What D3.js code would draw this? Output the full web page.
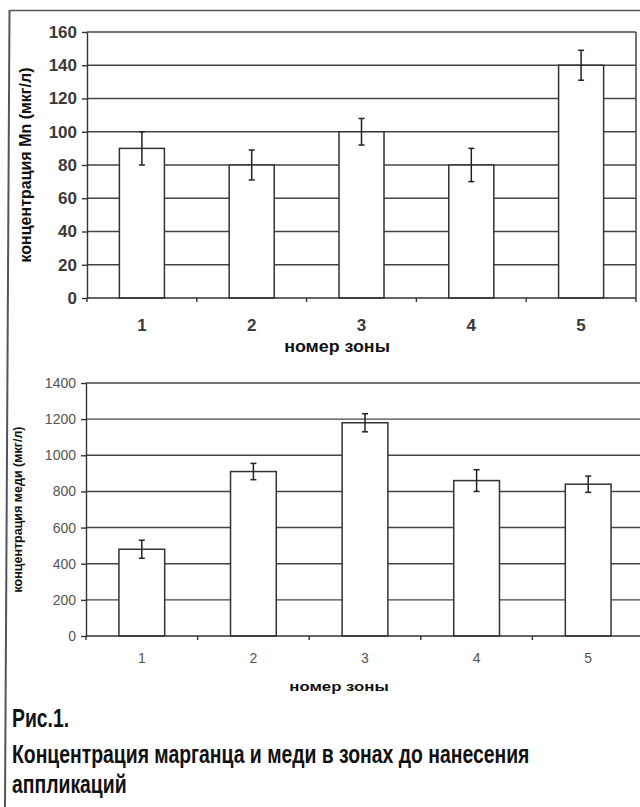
<!DOCTYPE html>
<meta charset="utf-8">
<style>
body { margin: 0; background: #fff; }
svg { display: block; }
.grid line { stroke: #444; stroke-width: 1.4px; }
.bar { fill: #fff; stroke: #333; stroke-width: 1.5px; }
.err { stroke: #222; stroke-width: 1.5px; fill: none; }
.axis path, .axis line { stroke: #333; stroke-width: 1.4px; }
</style>
<svg width="640" height="807"></svg>
<script src="https://cdn.jsdelivr.net/npm/d3@7"></script>
<script>
var zones = ["1", "2", "3", "4", "5"];
var mnValues = [90, 80, 100, 80, 140];
var mnErrors = [10, 9, 8, 10, 9];
var mnTicks = [0, 20, 40, 60, 80, 100, 120, 140, 160];
var cuValues = [480, 910, 1180, 860, 840];
var cuErrors = [50, 45, 50, 60, 45];
var cuTicks = [0, 200, 400, 600, 800, 1000, 1200, 1400];

var svg = d3.select("svg");

// frame of the figure
svg.append("line").attr("x1", 10).attr("x2", 640).attr("y1", 10.5).attr("y2", 10.5)
    .attr("stroke", "#555").attr("stroke-width", 1.5);
svg.append("line").attr("x1", 9.5).attr("x2", 5).attr("y1", 10).attr("y2", 807)
    .attr("stroke", "#555").attr("stroke-width", 2);

function chart(opt) {
  var g = svg.append("g").attr("transform", "translate(" + opt.left + "," + opt.top + ")");
  var width = opt.width, height = opt.height;

  var x = d3.scaleBand().domain(zones).range([0, width]);
  var y = d3.scaleLinear().domain([0, d3.max(opt.ticks)]).range([height, 0]);

  g.append("g").attr("class", "grid")
    .selectAll("line").data(opt.ticks.slice(1)).join("line")
      .attr("x1", 0).attr("x2", width)
      .attr("y1", function(d) { return y(d); })
      .attr("y2", function(d) { return y(d); });

  if (opt.rightBorder) {
    g.append("line").attr("x1", width).attr("x2", width).attr("y1", 0).attr("y2", height)
        .attr("stroke", "#444").attr("stroke-width", 1.5);
  }

  var bw = x.bandwidth() * 0.41;
  g.selectAll(".bar").data(opt.values).join("rect")
      .attr("class", "bar")
      .attr("x", function(d, i) { return x(zones[i]) + x.bandwidth() / 2 - bw / 2; })
      .attr("width", bw)
      .attr("y", function(d) { return y(d); })
      .attr("height", function(d) { return height - y(d); });

  var err = g.selectAll(".errg").data(opt.values).join("g").attr("class", "err");
  err.each(function(d, i) {
    var cx = x(zones[i]) + x.bandwidth() / 2;
    var e = opt.errors[i];
    var s = d3.select(this);
    s.append("line").attr("x1", cx).attr("x2", cx).attr("y1", y(d + e)).attr("y2", y(d - e));
    s.append("line").attr("x1", cx - 3).attr("x2", cx + 3).attr("y1", y(d + e)).attr("y2", y(d + e));
    s.append("line").attr("x1", cx - 3).attr("x2", cx + 3).attr("y1", y(d - e)).attr("y2", y(d - e));
  });

  // y axis
  var ya = g.append("g").attr("class", "axis")
      .call(d3.axisLeft(y).tickValues(opt.ticks).tickFormat(d3.format("d")).tickSize(5).tickSizeOuter(0));
  ya.selectAll("text")
      .attr("x", -10)
      .style("font-family", "Liberation Sans, Arial, sans-serif")
      .style("font-size", opt.tickFont + "px")
      .style("font-weight", opt.tickWeight)
      .attr("fill", opt.tickColor);

  // x axis with ticks at band boundaries
  var xa = g.append("g").attr("class", "axis")
      .attr("transform", "translate(0," + height + ")");
  xa.append("line").attr("x1", 0).attr("x2", width);
  xa.selectAll(".tk").data(zones.concat([""])).join("line")
      .attr("class", "tk")
      .attr("x1", function(d, i) { return i * x.step(); })
      .attr("x2", function(d, i) { return i * x.step(); })
      .attr("y1", 0).attr("y2", 4);
  xa.selectAll("text").data(zones).join("text")
      .attr("x", function(d) { return x(d) + x.bandwidth() / 2; })
      .attr("y", opt.xLabelDy)
      .attr("text-anchor", "middle")
      .style("font-family", "Liberation Sans, Arial, sans-serif")
      .style("font-size", opt.tickFont + "px")
      .style("font-weight", opt.tickWeight)
      .attr("fill", opt.tickColor)
      .text(function(d) { return d; });

  // axis titles
  svg.append("text")
      .attr("transform", "translate(" + opt.xTitleX + "," + opt.xTitleY + ") scale(" + opt.xTitleStretch + ",1)")
      .attr("text-anchor", "middle")
      .style("font-family", "Liberation Sans, Arial, sans-serif")
      .style("font-size", opt.xTitleFont + "px")
      .style("font-weight", "bold")
      .attr("fill", "#111")
      .text("номер зоны");

  svg.append("text")
      .attr("transform", "translate(" + opt.yTitleX + "," + (opt.top + height / 2) + ") rotate(-90)")
      .attr("text-anchor", "middle")
      .style("font-family", "Liberation Sans, Arial, sans-serif")
      .style("font-size", opt.yTitleFont + "px")
      .style("font-weight", "bold")
      .attr("fill", "#111")
      .text(opt.yTitle);
}

chart({
  left: 87, top: 32, width: 549, height: 266,
  values: mnValues, errors: mnErrors, ticks: mnTicks,
  rightBorder: true,
  tickFont: 17, tickWeight: "bold", tickColor: "#3a3a3a",
  xLabelDy: 33,
  xTitleX: 337, xTitleY: 352, xTitleFont: 17, xTitleStretch: 1.05,
  yTitleX: 31, yTitleFont: 16, yTitle: "концентрация Mn (мкг/л)"
});

chart({
  left: 86, top: 383, width: 558, height: 253,
  values: cuValues, errors: cuErrors, ticks: cuTicks,
  rightBorder: false,
  tickFont: 14, tickWeight: "normal", tickColor: "#555",
  xLabelDy: 27,
  xTitleX: 339, xTitleY: 691, xTitleFont: 12, xTitleStretch: 1.4,
  yTitleX: 22, yTitleFont: 12.5, yTitle: "концентрация меди (мкг/л)"
});

// caption, condensed bold
var caption = ["Рис.1.", "Концентрация марганца и меди в зонах до нанесения", "аппликаций"];
var captionY = [727, 763, 793];
svg.append("g").selectAll("text").data(caption).join("text")
    .attr("transform", function(d, i) { return "translate(12," + captionY[i] + ") scale(0.775,1)"; })
    .style("font-family", "Liberation Sans, Arial, sans-serif")
    .style("font-size", "25px")
    .style("font-weight", "bold")
    .attr("fill", "#111")
    .text(function(d) { return d; });
</script>
